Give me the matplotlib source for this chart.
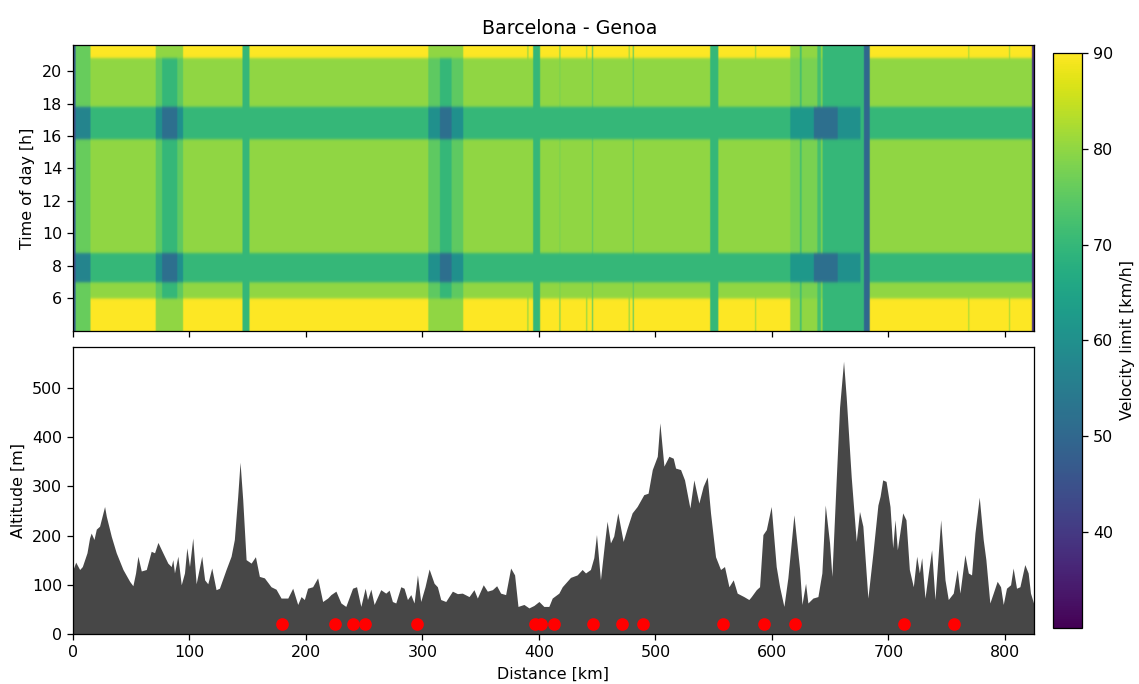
import numpy as np
import matplotlib
matplotlib.use("Agg")
import matplotlib.pyplot as plt

# ---------------- data ----------------
title = "Barcelona - Genoa"
route_length_km = 825
t_min, t_max = 4.0, 21.6

# standard road limits (night, day, peak) in km/h
base_night, base_day, base_peak = 90, 80, 70

# special segments: start km, end km, night / day / peak limits
seg_start = [0, 2.3, 71, 76.5, 89.5, 145.5, 305, 315, 325, 390, 395, 417.5, 440.5, 445.5,
             477, 480.5, 547, 585.5, 615.7, 624, 625.5, 636, 639, 642, 643.5, 656.5, 676,
             679, 768.5, 803.5, 823.3]
seg_end = [2.3, 15, 76.5, 89.5, 94.5, 151.5, 315, 325, 335, 391, 401, 418.5, 441.5, 446.5,
           478, 481.5, 554, 586.5, 624, 625.5, 636, 639, 642, 643.5, 656.5, 676, 679,
           684, 769.5, 804.5, 825]
seg_night = [48, 76, 80, 80, 80, 70, 80, 80, 80, 80, 70, 78, 80, 75,
             80, 75, 70, 82, 80, 72, 80, 80, 72, 80, 70, 70, 70,
             50, 82, 82, 38]
seg_day = [48, 76, 75, 70, 75, 70, 75, 70, 75, 80, 70, 78, 80, 75,
           80, 75, 70, 80, 78, 72, 78, 78, 72, 78, 70, 70, 70,
           50, 80, 80, 38]
seg_peak = [45, 57, 60, 52, 60, 70, 60, 52, 60, 70, 70, 70, 70, 70,
            70, 70, 70, 70, 62, 62, 62, 52, 52, 52, 52, 60, 70,
            50, 70, 70, 38]

# time-of-day periods
night_end_h = 6.0
night_start_h = 20.8
peak_start_h = [7.0, 15.8]
peak_end_h = [8.8, 17.8]

# altitude profile
alt_km = [0, 2.3, 5.7, 8, 12, 14.2, 15.6, 18, 20, 22.8, 27.1, 28.6, 32.9, 37.1, 42.9, 48.6,
          51.4, 53.7, 55.7, 58.6, 62.9, 67.1, 70, 72.9, 77.1, 81.4, 84.3, 85.7, 87.1, 90,
          92.9, 95.7, 97.7, 100, 102.8, 105.7, 110.5, 113, 115.7, 119.1, 122.8, 125.7,
          131.4, 135.7, 138.5, 141.4, 143.4, 145.7, 148.6, 152.9, 156.6, 160, 164.3, 170,
          174.3, 178.6, 184.4, 188.6, 192.9, 195.8, 198.6, 201.4, 205.7, 210, 214.3, 218.6,
          221.4, 225.7, 230, 234.2, 240, 243.4, 247.1, 250.8, 252.8, 255.7, 258.5, 264.2,
          268.5, 271.4, 274.2, 277.1, 281.4, 284.2, 287.1, 290, 292.8, 295.7, 298.5, 302.2,
          305.7, 310, 312.8, 315.7, 320, 325.7, 330, 334.2, 340, 344.2, 347.1, 352.2, 355.7,
          360, 363.7, 367.1, 371.4, 375.7, 379.1, 382, 387.1, 391.4, 395.7, 400, 404.2,
          408.5, 411.4, 417.1, 420, 427.1, 432.8, 437.1, 440, 444.2, 447.1, 449.4, 452.8,
          456.3, 458.5, 461.4, 464.2, 467.7, 472.3, 475.7, 480, 484.3, 490, 493.7, 497.3,
          501.6, 503.8, 507.3, 511.6, 515.3, 517.3, 521.6, 525, 529.6, 533, 537.3, 541,
          544.5, 547.3, 551.6, 555.9, 559.3, 563.1, 566.8, 570.2, 575.9, 580.2, 582.3,
          586.6, 589.4, 592.3, 595.2, 599.4, 603.7, 606.6, 610.3, 613.7, 618.9, 623.8,
          625.8, 628.9, 630.9, 635.2, 639.5, 642.9, 645.8, 649.5, 651.5, 655.2, 658.1,
          661.5, 663.8, 668.1, 672.4, 675.2, 678.1, 682.4, 686.7, 691, 692.9, 695.1, 698,
          701.4, 703.7, 705.7, 707.7, 712.3, 715.1, 718, 721.4, 724.3, 726.6, 728.6, 731.4,
          734.3, 737.1, 740, 744.9, 748.6, 751.4, 755.7, 759.1, 761.4, 765.7, 768.6, 771.4,
          774.3, 778, 781.4, 783.7, 787.1, 790, 793.4, 796.3, 798.6, 801.4, 804.9, 807.1,
          810, 812.9, 817.1, 820, 822, 825]
alt_m = [131, 146, 131, 137, 165, 195, 205, 192, 213, 219, 259, 239, 198, 165, 131, 107,
         98, 124, 158, 128, 131, 168, 165, 186, 165, 144, 137, 151, 124, 158,
         100, 124, 175, 137, 195, 102, 158, 110, 102, 134, 90, 93,
         131, 158, 192, 280, 349, 273, 151, 144, 157, 117, 114, 96,
         91, 73, 73, 93, 60, 76, 70, 93, 96, 114, 66, 73,
         80, 87, 63, 56, 93, 96, 56, 93, 70, 91, 60, 90,
         83, 89, 66, 63, 96, 93, 70, 80, 63, 120, 66, 96,
         132, 103, 96, 70, 66, 87, 82, 83, 76, 90, 73, 100, 87,
         90, 98, 83, 80, 134, 120, 56, 60, 53, 58, 66, 56,
         56, 73, 83, 96, 115, 120, 131, 124, 131, 155, 202, 110,
         185, 229, 185, 199, 246, 188, 215, 246, 259, 283, 286, 334,
         361, 429, 341, 361, 357, 337, 334, 313, 256, 313, 266, 300,
         319, 246, 157, 131, 137, 96, 110, 83, 76, 70, 76,
         90, 96, 202, 212, 259, 137, 96, 56, 114, 242, 131,
         60, 103, 63, 73, 76, 124, 262, 185, 117, 313, 461,
         554, 481, 319, 188, 249, 219, 73, 164, 262, 280, 313, 310,
         259, 175, 232, 171, 246, 232, 131, 96, 158, 124, 155, 73,
         124, 171, 70, 232, 110, 70, 83, 131, 83, 161, 124, 120,
         205, 278, 192, 151, 63, 83, 107, 96, 60, 93, 100, 134,
         93, 96, 141, 124, 83, 60]

stop_km = [179, 224.5, 240.5, 250.5, 295.5, 397, 401.5, 413, 446.5, 471.5, 489.5, 558,
           593.5, 619.5, 713.5, 756.5]
stop_alt = 20

# ---------------- build velocity grid ----------------
km_c = np.arange(0, route_length_km, 0.25) + 0.125
t_c = np.arange(t_min, t_max - 1e-9, 0.2) + 0.1

night_col = np.full(km_c.shape, float(base_night))
day_col = np.full(km_c.shape, float(base_day))
peak_col = np.full(km_c.shape, float(base_peak))
for s, e, vn, vd, vp in zip(seg_start, seg_end, seg_night, seg_day, seg_peak):
    m = (km_c >= s) & (km_c < e)
    night_col[m] = vn
    day_col[m] = vd
    peak_col[m] = vp

is_night = (t_c < night_end_h) | (t_c > night_start_h)
is_peak = np.zeros(t_c.shape, bool)
for a, b in zip(peak_start_h, peak_end_h):
    is_peak |= (t_c > a) & (t_c < b)

V = np.where(is_night[:, None], night_col[None, :],
             np.where(is_peak[:, None], peak_col[None, :], day_col[None, :]))

# ---------------- plot ----------------
fig = plt.figure(figsize=(1139 / 114, 6.0), dpi=114)
ax1 = fig.add_axes([0.0641, 0.5161, 0.8437, 0.4181])
ax2 = fig.add_axes([0.0641, 0.0731, 0.8437, 0.4196])
cax = fig.add_axes([0.9245, 0.0819, 0.0255, 0.8406])

im = ax1.imshow(V, origin="lower", aspect="auto", cmap="viridis", vmin=30, vmax=90,
                extent=(0, route_length_km, t_min, t_max), interpolation="gaussian")
ax1.set_xlim(0, route_length_km)
ax1.set_ylim(t_min, t_max)
ax1.set_yticks([6, 8, 10, 12, 14, 16, 18, 20])
ax1.set_xticks(np.arange(0, 801, 100))
ax1.tick_params(labelbottom=False)
ax1.set_ylabel("Time of day [h]")

cb = fig.colorbar(im, cax=cax)
cb.set_ticks([40, 50, 60, 70, 80, 90])
cb.set_label("Velocity limit [km/h]")

ax2.fill_between(alt_km, alt_m, color="#474747", lw=0)
ax2.plot(stop_km, [stop_alt] * len(stop_km), "o", color="red", ms=7)
ax2.set_xlim(0, route_length_km)
ax2.set_ylim(0, 583)
ax2.set_xticks(np.arange(0, 801, 100))
ax2.set_xlabel("Distance [km]")
ax2.set_ylabel("Altitude [m]")

fig.suptitle(title, y=0.972)

fig.savefig("out.png", dpi=114)
